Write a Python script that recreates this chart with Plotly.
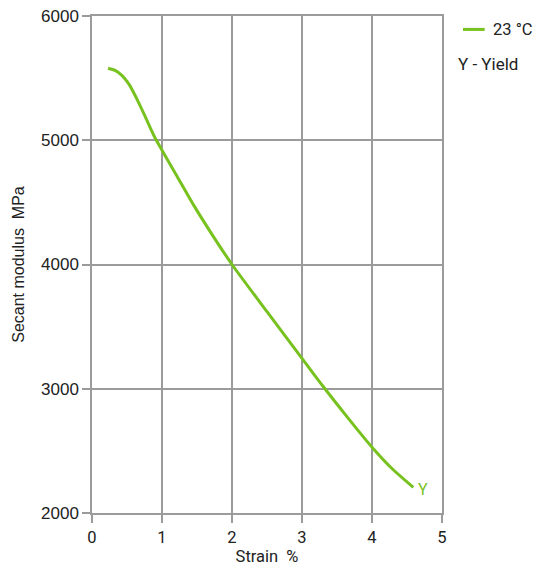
import plotly.graph_objects as go

strain = [0.23, 0.33, 0.43, 0.53, 0.63, 0.76, 0.9, 1.0, 1.2, 1.45, 1.7, 2.0, 2.5, 3.0, 3.3, 3.65, 4.0, 4.3, 4.59]
modulus = [5580, 5562, 5520, 5450, 5345, 5190, 5020, 4920, 4725, 4480, 4255, 4000, 3620, 3245, 3020, 2770, 2530, 2350, 2207]
series_name = "23 °C"
x_ticks = [0, 1, 2, 3, 4, 5]
y_ticks = [2000, 3000, 4000, 5000, 6000]

GREEN = "#77c21f"
GRID = "#9b9b9b"
ROBOTO = "Roboto"
ARIAL = "Liberation Sans, Arial"
TXT = "#222"

fig = go.Figure()
fig.add_trace(go.Scatter(x=strain, y=modulus, mode="lines", name=series_name,
                         line=dict(color=GREEN, width=3, shape="spline", smoothing=0.7),
                         showlegend=False, hoverinfo="skip"))

fig.add_annotation(x=strain[-1], y=modulus[-1], text="Y", showarrow=False,
                   xanchor="left", yanchor="middle", xshift=3, yshift=-2,
                   font=dict(family=ROBOTO, size=16, color=GREEN))

# manual legend (paper coords relative to plot area)
fig.add_shape(type="line", xref="paper", yref="paper", x0=1.06, x1=1.122, y0=0.973, y1=0.973,
              line=dict(color=GREEN, width=3))
fig.add_annotation(xref="paper", yref="paper", x=1.14, y=0.973, text=series_name,
                   showarrow=False, xanchor="left", yanchor="middle",
                   font=dict(family=ROBOTO, size=16.5, color=TXT))
fig.add_annotation(xref="paper", yref="paper", x=1.04, y=0.903, text="Y - Yield",
                   showarrow=False, xanchor="left", yanchor="middle",
                   font=dict(family=ROBOTO, size=17, color=TXT))

axis_common = dict(showgrid=True, gridcolor=GRID, gridwidth=1.5, showline=True, mirror=True,
                   linecolor=GRID, linewidth=1.5, ticks="outside", ticklen=8, tickcolor=GRID,
                   tickwidth=1.5, zeroline=False, automargin=False, ticklabeloverflow="allow")

fig.update_xaxes(range=[0, 5], tickvals=x_ticks,
                 tickfont=dict(family=ROBOTO, size=16.5, color=TXT),
                 title=dict(text="Strain  %", standoff=5,
                            font=dict(family=ROBOTO, size=16.5, color=TXT)), **axis_common)
fig.update_yaxes(range=[2000, 6000], tickvals=y_ticks,
                 tickfont=dict(family=ARIAL, size=17, color=TXT),
                 title=dict(text="Secant modulus  MPa", standoff=12,
                            font=dict(family=ARIAL, size=16, color=TXT)), **axis_common)

fig.update_layout(width=534, height=570, margin=dict(l=92, r=92, t=16, b=57),
                  plot_bgcolor="white", paper_bgcolor="white",
                  font=dict(family=ROBOTO, size=16, color=TXT))

# remove the browser's default 8px body margin so the figure sits at the page origin
fig.write_html("out.html", config={"displayModeBar": False},
               post_script="document.body.style.margin='0';document.body.style.overflow='hidden';")
